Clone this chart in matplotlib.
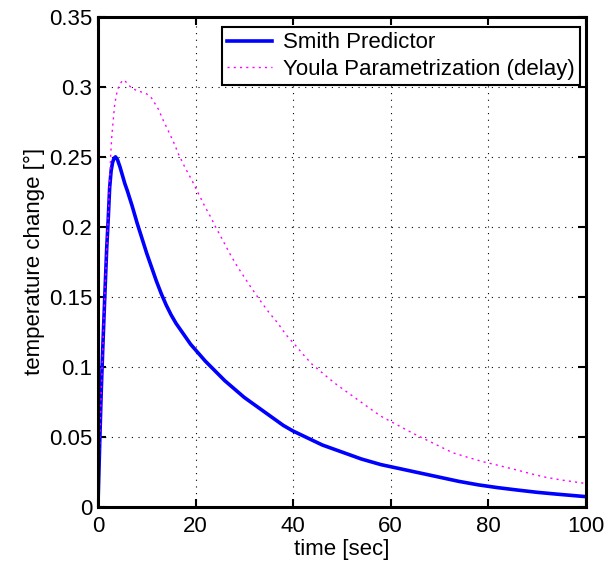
import matplotlib
matplotlib.use("Agg")
import matplotlib.pyplot as plt
from matplotlib.ticker import FuncFormatter

plt.rcParams['font.family'] = ['Liberation Sans', 'DejaVu Sans']
plt.rcParams['font.size'] = 16

# Smith Predictor response
t_smith = [0, 0.2, 0.4, 0.7, 1.0, 1.4, 1.8, 2.1, 2.4, 2.7, 3.0, 3.3, 3.6, 4.0,
           4.5, 5.0, 5.5, 6, 7, 8, 9, 10, 11, 12, 13, 14, 15, 16, 17, 18, 19,
           20, 22, 24, 26, 28, 30, 32, 34, 36, 38, 40, 43, 46, 50, 54, 58, 62,
           66, 70, 74, 78, 82, 86, 90, 94, 97, 100]
y_smith = [0, 0.025, 0.05, 0.085, 0.114, 0.15, 0.185, 0.205, 0.228, 0.24,
           0.246, 0.249, 0.25, 0.248, 0.243, 0.237, 0.231, 0.226, 0.215, 0.203,
           0.192, 0.181, 0.171, 0.161, 0.152, 0.144, 0.137, 0.131, 0.126,
           0.121, 0.116, 0.112, 0.104, 0.097, 0.09, 0.084, 0.078, 0.073, 0.068,
           0.063, 0.058, 0.054, 0.049, 0.044, 0.039, 0.034, 0.030, 0.027,
           0.024, 0.021, 0.018, 0.0155, 0.0135, 0.0118, 0.0102, 0.0089, 0.008,
           0.0071]

# Youla parametrization (delay) response
t_youla = [0, 0.2, 0.4, 0.7, 1.0, 1.4, 1.8, 2.1, 2.4, 2.6, 2.8, 3.1, 3.45, 4.0,
           4.5, 5.1, 5.6, 6.2, 6.9, 7.6, 8.4, 9.2, 10, 11, 11.7, 12.4, 13.4,
           14.5, 15.7, 16.5, 17.9, 19.3, 20.7, 22, 23.1, 24.1, 25.5, 27, 28.5,
           30, 31.5, 33.1, 35, 36.9, 38.5, 40.3, 42, 43.8, 45.5, 47.2, 49, 51,
           53, 55, 57, 58.3, 61, 64.5, 68.6, 72.7, 76, 79, 82, 85.8, 88.5,
           91.4, 95, 100]
y_youla = [0, 0.025, 0.05, 0.085, 0.114, 0.15, 0.185, 0.207, 0.232, 0.25,
           0.263, 0.275, 0.288, 0.298, 0.302, 0.305, 0.304, 0.302, 0.299,
           0.298, 0.297, 0.296, 0.295, 0.292, 0.288, 0.284, 0.276, 0.268,
           0.259, 0.252, 0.242, 0.233, 0.223, 0.214, 0.207, 0.2, 0.191, 0.181,
           0.172, 0.164, 0.156, 0.148, 0.139, 0.131, 0.123, 0.116, 0.109,
           0.102, 0.097, 0.092, 0.087, 0.082, 0.077, 0.072, 0.067, 0.064,
           0.059, 0.0525, 0.0455, 0.0385, 0.035, 0.032, 0.0295, 0.0262,
           0.0237, 0.0212, 0.019, 0.0165]

x_ticks = [0, 20, 40, 60, 80, 100]
y_ticks = [0, 0.05, 0.1, 0.15, 0.2, 0.25, 0.3, 0.35]

fig = plt.figure(figsize=(6.16, 5.66), dpi=100)
ax = fig.add_axes([0.159, 0.105, 0.792, 0.865])

ax.plot(t_smith, y_smith, color='#0000ff', lw=2.6, label='Smith Predictor')
ax.plot(t_youla, y_youla, color='#ff00ff', lw=1.0, linestyle=(0, (1.5, 3)),
        label='Youla Parametrization (delay)')

ax.set_xlim(0, 100)
ax.set_ylim(0, 0.35)
ax.set_xticks(x_ticks)
ax.set_yticks(y_ticks)
ax.yaxis.set_major_formatter(FuncFormatter(lambda v, p: '%g' % v))

ax.grid(True, color='black', linestyle=(0, (1, 5)), lw=0.8)
ax.tick_params(direction='in', top=True, right=True, length=6, width=1.5,
               labelsize=16)
ax.tick_params(axis='x', pad=7)
ax.tick_params(axis='y', pad=4)
for s in ax.spines.values():
    s.set_linewidth(2.2)

ax.set_xlabel('time [sec]', fontsize=16, labelpad=1)
ax.set_ylabel('temperature change [°]', fontsize=16, labelpad=3)

leg = ax.legend(loc='upper right', bbox_to_anchor=(0.988, 0.98),
                fancybox=False, shadow=False, edgecolor='black',
                framealpha=1, fontsize=16, borderaxespad=0,
                handlelength=2.0, borderpad=0.25, labelspacing=0.25,
                handletextpad=0.5)
leg.get_frame().set_linewidth(1.5)

fig.savefig('out.png', dpi=100)
